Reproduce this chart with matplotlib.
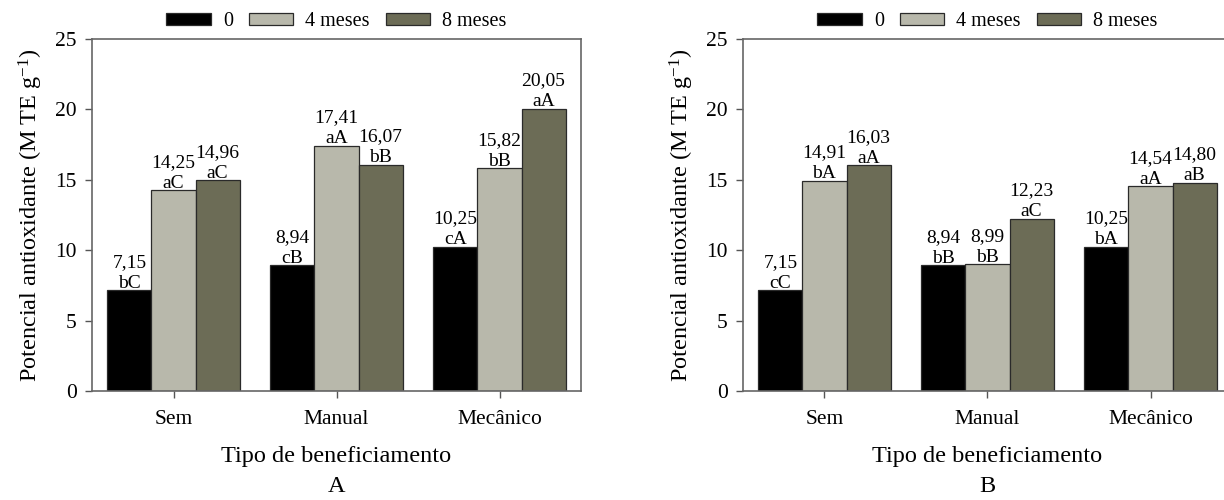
import matplotlib
matplotlib.use("Agg")
import matplotlib.pyplot as plt
import numpy as np

plt.rcParams['font.family'] = ['Liberation Serif', 'DejaVu Serif']
plt.rcParams['mathtext.fontset'] = 'custom'
plt.rcParams['mathtext.rm'] = 'Liberation Serif'
plt.rcParams['mathtext.it'] = 'Liberation Serif:italic'

# data
categorias = ['Sem', 'Manual', 'Mecânico']
series = ['0', '4 meses', '8 meses']
valores_A = [[7.15, 8.94, 10.25],
             [14.25, 17.41, 15.82],
             [14.96, 16.07, 20.05]]
letras_A = [['bC', 'cB', 'cA'],
            ['aC', 'aA', 'bB'],
            ['aC', 'bB', 'aA']]
valores_B = [[7.15, 8.94, 10.25],
             [14.91, 8.99, 14.54],
             [16.03, 12.23, 14.80]]
letras_B = [['cC', 'bB', 'bA'],
            ['bA', 'bB', 'aA'],
            ['aA', 'aC', 'aB']]
cores = ['#000000', '#b8b8ab', '#6c6c56']

W, H = 1224, 500
fig = plt.figure(figsize=(W / 100, H / 100), dpi=100)


def painel(ax, valores, letras, letra_painel):
    x = np.arange(len(categorias))
    largura = 0.27
    for i, (vals, lets) in enumerate(zip(valores, letras)):
        pos = x + (i - 1) * largura
        ax.bar(pos, vals, largura, color=cores[i], edgecolor='#2a2a2a',
               linewidth=0.9, label=series[i])
        for p, v, l in zip(pos, vals, lets):
            txt = f"{v:.2f}".replace('.', ',') + "\n" + l
            ax.annotate(txt, (p, v), xytext=(0, -1), textcoords='offset points',
                        ha='center', va='bottom', fontsize=14, linespacing=1.3)
    ax.set_xlim(-0.5, 2.5)
    ax.set_ylim(0, 25)
    ax.set_yticks([0, 5, 10, 15, 20, 25])
    ax.set_xticks(x)
    ax.set_xticklabels(categorias)
    ax.tick_params(axis='both', direction='out', length=5, width=1,
                   color='#555555', labelsize=15.5)
    ax.tick_params(axis='x', pad=9)
    ax.tick_params(axis='y', pad=6)
    for s in ax.spines.values():
        s.set_color('#666666')
        s.set_linewidth(1.2)
    ax.set_xlabel('Tipo de beneficiamento', fontsize=17.5, labelpad=12)
    ax.set_ylabel('Potencial antioxidante (M TE g$^{\\mathrm{-1}}$)',
                  fontsize=17.5, labelpad=7)
    ax.legend(loc='lower center', bbox_to_anchor=(0.5, 1.0), ncol=3,
              frameon=False, fontsize=14.5, handlelength=2.2, handleheight=0.5,
              handletextpad=0.6, columnspacing=0.8, borderaxespad=0.0)
    ax.text(0.5, -0.272, letra_painel, transform=ax.transAxes, ha='center',
            va='center', fontsize=17.5)


axA = fig.add_axes([92 / W, 109 / H, 489 / W, 352 / H])
painel(axA, valores_A, letras_A, 'A')
axB = fig.add_axes([743 / W, 109 / H, 489 / W, 352 / H])
painel(axB, valores_B, letras_B, 'B')

fig.savefig('out.png', dpi=100)
